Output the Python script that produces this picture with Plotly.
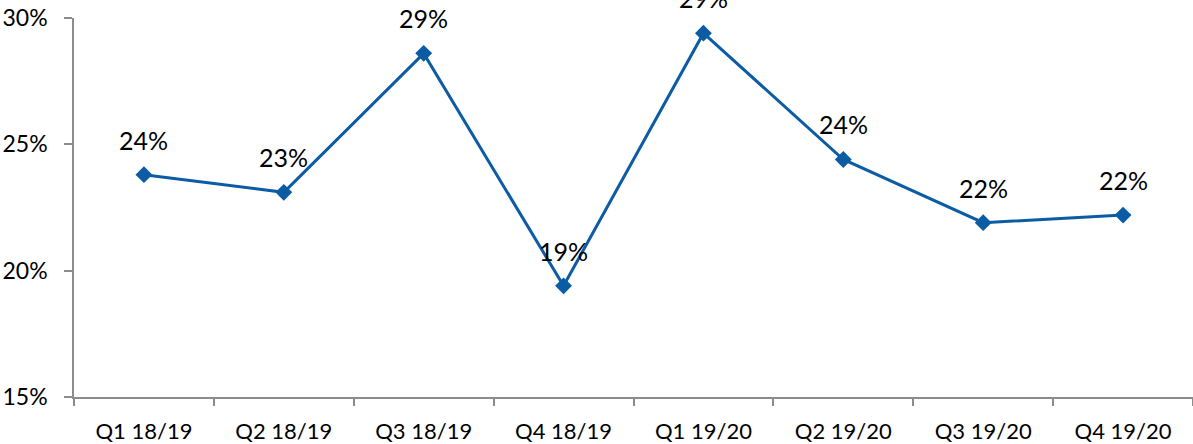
import plotly.graph_objects as go

categories = ["Q1 18/19", "Q2 18/19", "Q3 18/19", "Q4 18/19",
              "Q1 19/20", "Q2 19/20", "Q3 19/20", "Q4 19/20"]
values = [23.8, 23.1, 28.6, 19.4, 29.4, 24.4, 21.9, 22.2]
labels = ["24%", "23%", "29%", "19%", "29%", "24%", "22%", "22%"]
y_ticks = [15, 20, 25, 30]
y_tick_labels = ["15%", "20%", "25%", "30%"]

LINE = "#0B5CA4"
AXIS = "#8C8C8C"
FONT = "Lato, 'Open Sans', sans-serif"

fig = go.Figure()
fig.add_trace(go.Scatter(
    x=categories, y=values, mode="lines+markers",
    line=dict(color=LINE, width=3),
    marker=dict(symbol="diamond", size=13, color=LINE),
    cliponaxis=False, hoverinfo="skip", showlegend=False,
))

for c, v, t in zip(categories, values, labels):
    fig.add_annotation(x=c, y=v, text=t, showarrow=False, yshift=35,
                       font=dict(size=25, color="#000000", family=FONT))

fig.update_layout(
    width=1193, height=444,
    margin=dict(l=74, r=0, t=18, b=47),
    paper_bgcolor="white", plot_bgcolor="white",
    font=dict(family=FONT, color="#000000"),
)
fig.update_xaxes(
    type="category", showgrid=False, zeroline=False, automargin=False,
    showline=True, linecolor=AXIS, linewidth=1.5,
    ticks="outside", tickson="boundaries", ticklen=7, tickcolor=AXIS, tickwidth=1.5,
    tickfont=dict(size=22, family=FONT), ticklabelstandoff=14,
    range=[-0.5, 7.5],
)
fig.update_yaxes(
    range=[15, 30], tickvals=y_ticks, ticktext=y_tick_labels,
    showgrid=False, zeroline=False, automargin=False,
    showline=True, linecolor=AXIS, linewidth=1.5,
    ticks="outside", ticklen=8, tickcolor=AXIS, tickwidth=1.5,
    tickfont=dict(size=23, family=FONT), ticklabelstandoff=12,
)

fig.write_html("out.html", config={"displayModeBar": False},
               post_script="document.body.style.margin='0';document.body.style.overflow='hidden';")
